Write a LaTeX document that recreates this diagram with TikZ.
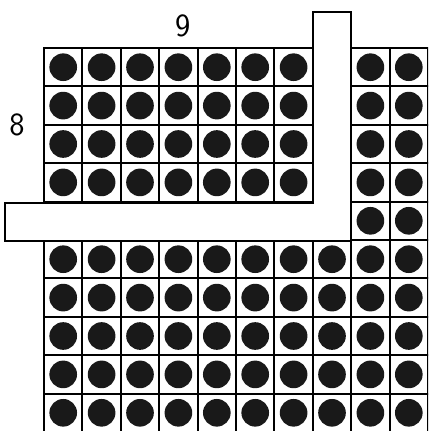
\documentclass[tikz,border=0pt]{standalone}
\usepackage{tikz}
\usetikzlibrary{positioning}

\begin{document}
\begin{tikzpicture}[
    cell/.style={draw=black, line width=1.4pt},
    dot/.style={fill=black!90},
    strip/.style={draw=black, line width=1.2pt, fill=white},
    lbl/.style={font=\sffamily\fontsize{24}{26}\selectfont}]

    % Frame (the grid runs off the right and bottom edges)
    \useasboundingbox (0,0) rectangle (11.146,-11.224);
    \clip (0,0) rectangle (11.146,-11.224);

    % Cells with dots, leaving out the L-shaped cut
    \foreach \r in {0,...,9} {
      \foreach \c in {0,...,9} {
        \pgfmathtruncatemacro{\isgap}{(\c==7 && \r<5) || (\r==4 && \c<8)}
        \ifnum\isgap=0
          \draw[cell] (1.146+\c,-1.25-\r) rectangle ++(1,-1);
          \fill[dot] (1.646+\c,-1.75-\r) circle (0.36);
        \fi
      }
    }

    % L-shaped strip
    \draw[strip] (0.13,-5.29) -- (8.146,-5.29) -- (8.146,-0.3125)
      -- (9.146,-0.3125) -- (9.146,-6.28) -- (0.13,-6.28) -- cycle;

    % Labels
    \node[lbl] (nine) at (4.76,-0.68) {9};
    \node[lbl] (eight) at (0.44,-3.25) {8};
\end{tikzpicture}
\end{document}
